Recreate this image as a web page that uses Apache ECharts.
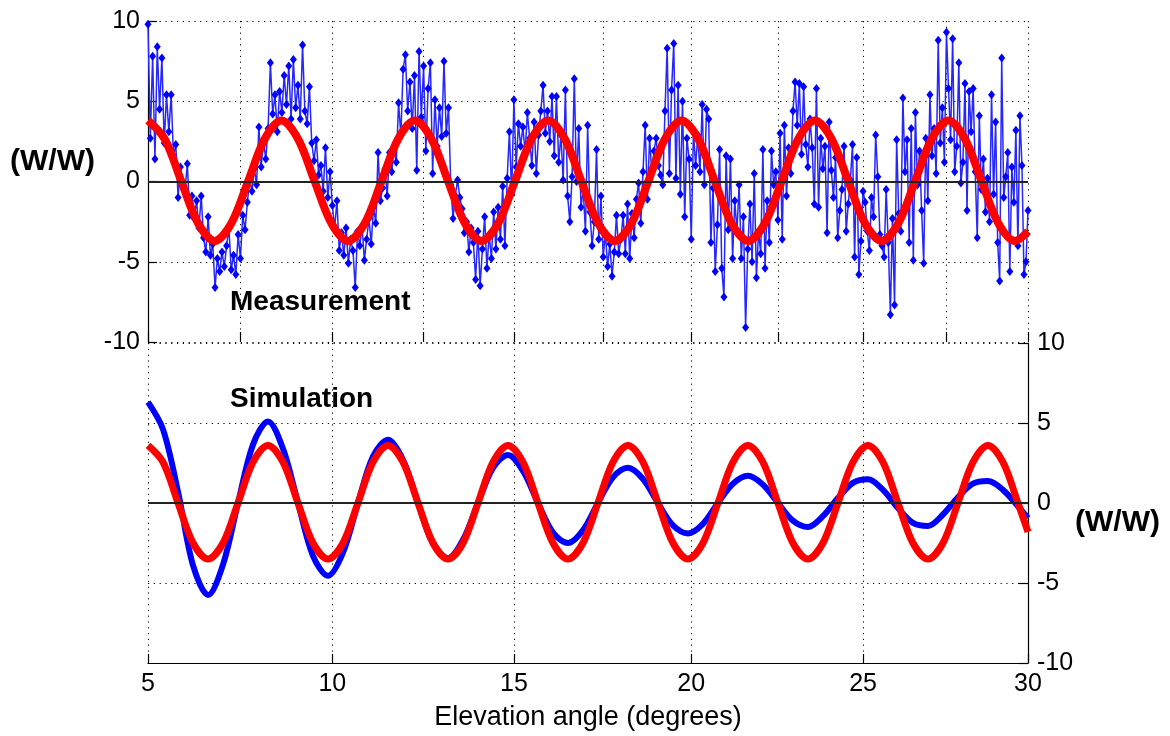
<!DOCTYPE html>
<html>
<head>
<meta charset="utf-8">
<title>Elevation angle response</title>
<script src="https://cdn.jsdelivr.net/npm/echarts@6.0.0/dist/echarts.min.js"></script>
<style>
  html, body { margin: 0; padding: 0; background: #fff; }
  #chart { width: 1170px; height: 736px; }
</style>
</head>
<body>
<div id="chart"></div>
<script>
// ---- data -------------------------------------------------------------
// Measured response, sampled every 1/16 degree from 5 to 30 degrees (one row per degree).
const measStartDeg = 5;
const measStepDeg = 0.0625;
const measValues = [
  9.8, 2.7, 7.8, 1.4, 8.4, 4.5, 7.7, 2.4, 5.4, 3.1, 5.4, 1.6, 2.3, -1.0, 0.9, -0.3,
  -0.5, 1.1, -2.1, -0.9, -2.3, -1.2, -2.9, -0.9, -3.5, -4.4, -2.2, -4.6, -3.9, -6.6, -4.8, -5.6,
  -4.4, -5.3, -4.0, -2.9, -5.5, -4.6, -5.8, -3.3, -4.8, -2.1, -3.0, -1.3, 0.1, -0.6, 0.8, -0.2,
  3.4, 0.9, 2.5, 1.4, 3.3, 7.4, 4.2, 5.4, 3.1, 5.6, 4.3, 6.6, 4.8, 7.2, 3.9, 7.6,
  4.6, 6.0, 3.9, 8.5, 4.4, 3.6, 5.9, 2.4, 1.3, 2.6, 0.4, 1.0, -0.6, 2.1, -1.0, 0.6,
  -1.5, -2.9, -1.2, -4.3, -3.2, -4.6, -2.9, -5.1, -3.6, -4.3, -6.6, -3.1, -4.0, -2.8, -4.9, -3.6,
  -2.3, -3.9, -1.6, -2.6, 1.8, -1.2, -0.4, 0.8, -0.9, 1.8, 0.6, 2.1, 1.2, 4.9, 2.9, 7.0,
  7.9, 4.4, 6.2, 3.3, 6.6, 0.7, 8.1, 4.0, 7.2, 1.9, 5.8, 7.4, 0.5, 5.1, 2.2, 4.6,
  2.8, 7.5, 3.0, 4.6, -0.2, -2.3, -0.9, 0.1, -1.0, -1.7, -3.2, -2.5, -4.4, -2.9, -3.8, -6.1,
  -3.1, -6.5, -4.2, -2.2, -5.4, -3.3, -4.8, -1.9, -4.2, -1.6, -3.6, -0.3, -4.0, 0.2, 3.1, -0.8,
  5.1, 0.9, 3.6, 2.2, 3.4, 1.8, 4.3, 2.7, 1.0, 3.7, 0.5, 2.9, 4.4, 6.0, 3.0, 4.4,
  2.5, 5.3, 1.6, 5.3, 1.2, 2.9, 0.1, 5.7, -0.9, -2.5, 0.3, 6.4, 0.0, 3.3, -1.6, -0.5,
  -3.1, 3.5, -1.9, -4.0, -2.5, 2.0, -3.6, -0.9, -4.7, -3.2, -5.3, -3.9, -5.9, -4.4, -2.1, -4.5,
  -3.6, -2.1, -4.5, -1.4, -4.8, -2.0, -3.5, -1.1, -0.1, -2.6, 0.6, 3.5, -1.1, 2.7, 0.6, 1.9,
  2.7, 1.0, 0.4, -0.2, 4.4, 8.3, 0.5, 5.7, 8.6, 0.2, 6.0, -0.8, 5.0, -2.2, 2.7, 1.4,
  -3.6, 3.1, 1.0, 2.9, 0.6, 4.8, -0.2, 4.5, 3.9, -3.8, -0.4, -5.6, -2.7, 2.0, -5.4, -7.2,
  1.6, -3.0, 1.4, -4.8, -1.2, -3.1, -0.2, -4.8, -2.2, -9.1, -4.2, -1.4, -5.0, 0.5, -6.0, -3.1,
  -4.5, 2.0, -5.4, -1.2, -3.8, 1.9, -0.2, 0.6, -2.4, 3.0, -3.6, 3.5, -0.9, 2.1, 0.5, 4.4,
  6.2, 3.5, 6.1, 1.7, 5.9, 2.3, 0.9, 3.9, 2.1, -1.4, 5.8, -1.6, 2.7, 0.8, 2.2, -3.2,
  3.7, 0.7, -1.0, 1.5, -3.5, -1.8, -0.5, 2.2, -3.1, -1.4, 0.1, 2.3, -4.7, 1.5, -5.8, -3.7,
  -0.6, -1.3, -3.1, -4.3, -1.0, -2.2, 2.9, 0.3, -3.3, -4.0, -4.7, -0.5, -3.8, -8.3, -2.3, -7.7,
  2.6, -2.0, -3.1, 5.2, 0.6, 2.6, -3.8, 3.3, -4.9, 4.3, -0.2, 1.9, -1.8, -5.1, 2.7, -1.2,
  5.4, 1.6, 3.3, 0.5, 8.8, 2.4, 4.6, 1.2, 9.3, 5.8, 2.6, 8.9, 0.6, 2.2, 7.4, -0.1,
  1.2, 6.1, -1.8, 5.6, 3.1, 5.8, 0.6, -3.5, 4.1, -0.5, 1.4, -1.9, 0.2, -2.5, 5.4, -0.8,
  3.7, -3.8, -6.2, 7.7, -1.0, 0.3, 1.8, -5.6, 0.9, -1.3, 3.2, -4.0, 4.1, 1.0, -5.8, -5.0,
  -1.8
];

// Fitted curve over the measurement.
const fitTopDeg = [
  5.000, 5.451, 5.901, 6.352, 6.803, 7.254, 7.706, 8.158, 8.611, 9.065,
  9.519, 9.973, 10.429, 10.885, 11.342, 11.800, 12.259, 12.718, 13.178, 13.639,
  14.100, 14.563, 15.026, 15.491, 15.955, 16.422, 16.889, 17.358, 17.828, 18.300,
  18.774, 19.249, 19.724, 20.200, 20.678, 21.157, 21.639, 22.121, 22.606, 23.092,
  23.581, 24.070, 24.564, 25.057, 25.554, 26.050, 26.551, 27.052, 27.558, 28.063,
  28.573, 29.084, 29.599, 30.000
];
const fitTopValues = [
  3.8, 2.65, 0, -2.6, -3.7, -2.6, 0, 2.65, 3.8, 2.65,
  0, -2.6, -3.7, -2.6, 0, 2.65, 3.8, 2.65, 0, -2.6,
  -3.7, -2.6, 0, 2.65, 3.8, 2.65, 0, -2.6, -3.7, -2.6,
  0, 2.65, 3.8, 2.65, 0, -2.6, -3.7, -2.6, 0, 2.65,
  3.8, 2.65, 0, -2.6, -3.7, -2.6, 0, 2.65, 3.8, 2.65,
  0, -2.6, -3.7, -3.1
];

// Simulated response and its fitted curve, on a shared angle grid.
const simDeg = [
  5.000, 5.405, 5.811, 6.216, 6.622, 7.027, 7.434, 7.840, 8.247, 8.655,
  9.063, 9.471, 9.880, 10.290, 10.699, 11.110, 11.522, 11.934, 12.347, 12.760,
  13.174, 13.588, 14.003, 14.419, 14.836, 15.253, 15.671, 16.090, 16.510, 16.930,
  17.352, 17.775, 18.199, 18.625, 19.051, 19.479, 19.906, 20.335, 20.765, 21.197,
  21.630, 22.064, 22.500, 22.936, 23.375, 23.815, 24.257, 24.701, 25.146, 25.592,
  26.039, 26.489, 26.940, 27.394, 27.848, 28.306, 28.765, 29.225, 29.688, 30.000
];
const simValues = [
  6.3, 4.6, 0.7, -3.9, -5.75, -3.85, 0, 3.65, 5.1, 3.4,
  0, -3.3, -4.55, -3.1, 0, 2.9, 3.95, 2.7, 0, -2.55,
  -3.45, -2.3, 0, 2.2, 3.0, 2.0, 0, -1.85, -2.5, -1.7,
  0, 1.6, 2.2, 1.5, 0, -1.4, -1.9, -1.3, 0, 1.2,
  1.7, 1.15, 0, -1.1, -1.5, -0.82, 0.31, 1.26, 1.48, 0.82,
  -0.31, -1.24, -1.43, -0.72, 0.36, 1.21, 1.37, 0.82, -0.2, -0.95
];
const fitBottomValues = [
  3.6, 2.55, 0, -2.5, -3.5, -2.5, 0, 2.55, 3.6, 2.55,
  0, -2.5, -3.5, -2.5, 0, 2.55, 3.6, 2.55, 0, -2.5,
  -3.5, -2.5, 0, 2.55, 3.6, 2.55, 0, -2.5, -3.5, -2.5,
  0, 2.55, 3.6, 2.55, 0, -2.5, -3.5, -2.5, 0, 2.55,
  3.6, 2.55, 0, -2.5, -3.5, -2.5, 0, 2.55, 3.6, 2.55,
  0, -2.5, -3.5, -2.5, 0, 2.55, 3.6, 2.55, 0, -1.8
];

// Axis ticks, in degrees of elevation.
const angleTicksMajor = [5, 10, 15, 20, 25, 30];
const angleTicksMinor = [5, 7.5, 10, 12.5, 15, 17.5, 20, 22.5, 25, 27.5, 30];
const yTickStep = 5;

// ---- chart ------------------------------------------------------------
// The horizontal scale is linear in sin(elevation); labels show degrees.
const toAxis = deg => Math.sin(deg * Math.PI / 180);
const toDeg = v => Math.round(Math.asin(v) * 180 / Math.PI * 10) / 10;

const X_MIN = toAxis(5);
const X_MAX = toAxis(30);
const FONT = '"Liberation Sans", Arial, Helvetica, sans-serif';
const SMOOTH = 0.33;

const measData = measValues.map((v, i) => [toAxis(measStartDeg + i * measStepDeg), v]);
const fitTopData = fitTopDeg.map((d, i) => [toAxis(d), fitTopValues[i]]);
const simData = simDeg.map((d, i) => [toAxis(d), simValues[i]]);
const fitBottomData = simDeg.map((d, i) => [toAxis(d), fitBottomValues[i]]);

const majorTicks = angleTicksMajor.map(toAxis);
const minorTicks = angleTicksMinor.map(toAxis);

const dotted = { show: true, lineStyle: { color: '#000', width: 1, type: [1.2, 4.6] } };
const tickText = { fontSize: 25, color: '#000', fontFamily: FONT };
const zeroLine = {
  silent: true, symbol: 'none', label: { show: false },
  lineStyle: { color: '#222', width: 1.8, type: 'solid' },
  emphasis: { disabled: true },
  data: [{ yAxis: 0 }]
};

const chart = echarts.init(document.getElementById('chart'), null, { renderer: 'canvas' });

chart.setOption({
  animation: false,
  backgroundColor: '#fff',
  grid: [
    { left: 148, right: 142, top: 21, height: 321, outerBoundsMode: 'none' },
    { left: 148, right: 142, top: 343, height: 320, outerBoundsMode: 'none' }
  ],
  xAxis: [
    {
      gridIndex: 0, type: 'value', min: X_MIN, max: X_MAX,
      axisLine: { show: false, onZero: false },
      axisTick: { show: true, inside: true, length: 10, customValues: minorTicks,
                  lineStyle: { color: '#000', width: 1.2 } },
      axisLabel: { show: false },
      splitLine: Object.assign({ customValues: minorTicks }, dotted)
    },
    {
      gridIndex: 1, type: 'value', min: X_MIN, max: X_MAX,
      axisLine: { show: true, onZero: false, lineStyle: { color: '#000', width: 1.2 } },
      axisTick: { show: true, inside: true, length: 9, customValues: majorTicks,
                  lineStyle: { color: '#000', width: 1.2 } },
      axisLabel: Object.assign({ customValues: majorTicks, margin: 9,
                                 formatter: v => String(toDeg(v)) }, tickText),
      splitLine: Object.assign({ customValues: majorTicks }, dotted),
      name: 'Elevation angle (degrees)', nameLocation: 'middle', nameGap: 41,
      nameTextStyle: { fontSize: 27, color: '#000', fontFamily: FONT }
    }
  ],
  yAxis: [
    {
      gridIndex: 0, type: 'value', min: -10, max: 10, interval: yTickStep, position: 'left',
      axisLine: { show: true, onZero: false, lineStyle: { color: '#000', width: 1.2 } },
      axisTick: { show: true, inside: true, length: 9, lineStyle: { color: '#000', width: 1.2 } },
      axisLabel: Object.assign({ margin: 8 }, tickText),
      splitLine: dotted
    },
    {
      gridIndex: 1, type: 'value', min: -10, max: 10, interval: yTickStep, position: 'right',
      axisLine: { show: true, onZero: false, lineStyle: { color: '#000', width: 1.2 } },
      axisTick: { show: true, inside: true, length: 9, lineStyle: { color: '#000', width: 1.2 } },
      axisLabel: Object.assign({ margin: 9 }, tickText),
      splitLine: dotted
    }
  ],
  series: [
    {
      name: 'Measurement', type: 'line', xAxisIndex: 0, yAxisIndex: 0,
      data: measData,
      symbol: 'diamond', symbolSize: [7, 9], showAllSymbol: true,
      lineStyle: { color: '#2626ff', width: 1.5 },
      itemStyle: { color: '#0000ff' },
      markLine: zeroLine,
      z: 2
    },
    {
      name: 'Measurement fit', type: 'line', xAxisIndex: 0, yAxisIndex: 0,
      data: fitTopData, smooth: SMOOTH, showSymbol: false,
      lineStyle: { color: '#ff0000', width: 8 },
      z: 3
    },
    {
      name: 'Simulation', type: 'line', xAxisIndex: 1, yAxisIndex: 1,
      data: simData, smooth: SMOOTH, showSymbol: false,
      lineStyle: { color: '#0000ff', width: 6 },
      markLine: zeroLine,
      z: 2
    },
    {
      name: 'Simulation fit', type: 'line', xAxisIndex: 1, yAxisIndex: 1,
      data: fitBottomData, smooth: SMOOTH, showSymbol: false,
      lineStyle: { color: '#ff0000', width: 7 },
      z: 3
    }
  ],
  graphic: [
    { type: 'text', x: 10, y: 162, z: 10,
      style: { text: '(W/W)', fontSize: 30, fontWeight: 'bold', fontFamily: FONT,
               fill: '#000', align: 'left', verticalAlign: 'middle' } },
    { type: 'text', x: 1075, y: 523, z: 10,
      style: { text: '(W/W)', fontSize: 30, fontWeight: 'bold', fontFamily: FONT,
               fill: '#000', align: 'left', verticalAlign: 'middle' } },
    { type: 'text', x: 230, y: 302, z: 10,
      style: { text: 'Measurement', fontSize: 28, fontWeight: 'bold', fontFamily: FONT,
               fill: '#000', align: 'left', verticalAlign: 'middle' } },
    { type: 'text', x: 230, y: 399, z: 10,
      style: { text: 'Simulation', fontSize: 28, fontWeight: 'bold', fontFamily: FONT,
               fill: '#000', align: 'left', verticalAlign: 'middle' } }
  ]
});
</script>
</body>
</html>
